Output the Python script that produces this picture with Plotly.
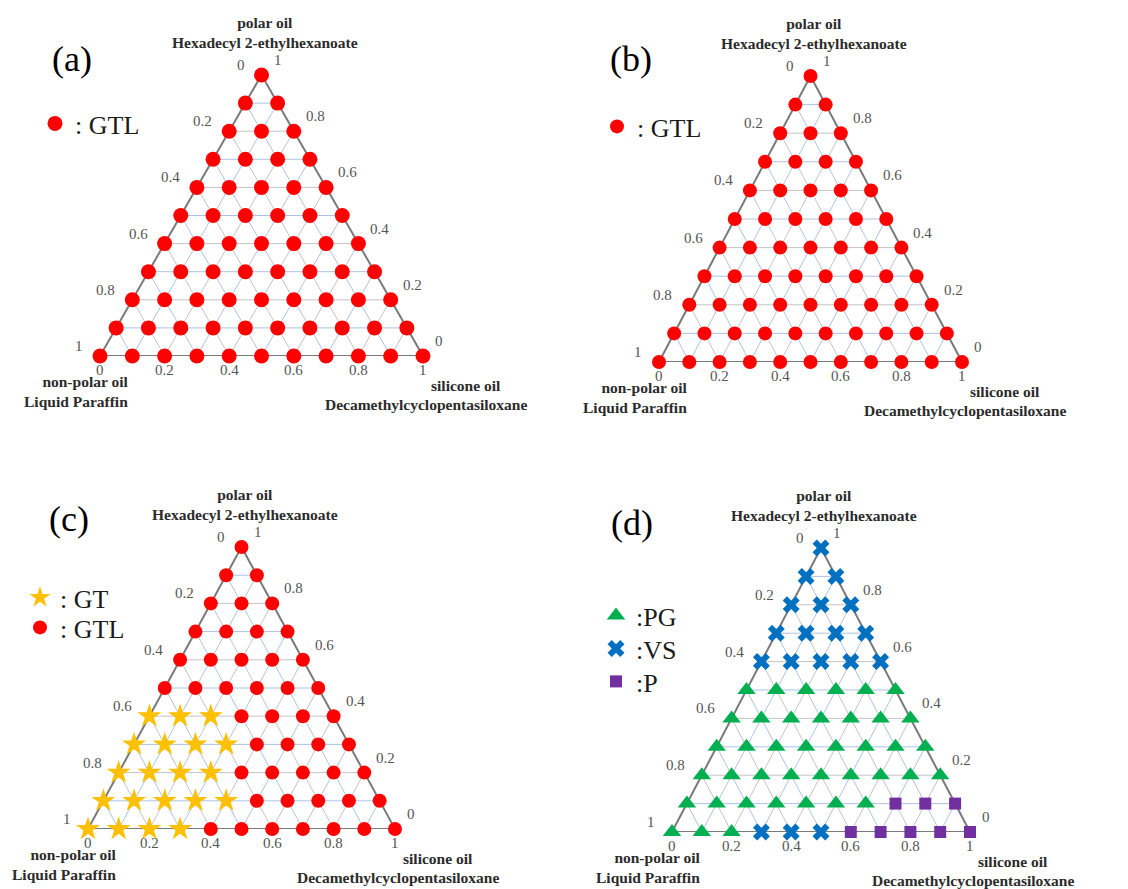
import plotly.graph_objects as go

# ---------------- data ----------------
# composition levels (mass fraction steps of 0.1)
SILICONE_LEVELS = [0.0, 0.1, 0.2, 0.3, 0.4, 0.5, 0.6, 0.7, 0.8, 0.9, 1.0]
POLAR_ROWS = [1.0, 0.9, 0.8, 0.7, 0.6, 0.5, 0.4, 0.3, 0.2, 0.1, 0.0]

# phase observed at each composition: one string per polar-oil row (top -> bottom),
# k-th character = phase at silicone-oil fraction SILICONE_LEVELS[k]
PHASES_A = ["L", "LL", "LLL", "LLLL", "LLLLL", "LLLLLL", "LLLLLLL",
            "LLLLLLLL", "LLLLLLLLL", "LLLLLLLLLL", "LLLLLLLLLLL"]
PHASES_B = ["L", "LL", "LLL", "LLLL", "LLLLL", "LLLLLL", "LLLLLLL",
            "LLLLLLLL", "LLLLLLLLL", "LLLLLLLLLL", "LLLLLLLLLLL"]
PHASES_C = ["L", "LL", "LLL", "LLLL", "LLLLL", "LLLLLL", "TTTLLLL",
            "TTTTLLLL", "TTTTLLLLL", "TTTTTLLLLL", "TTTTLLLLLLL"]
PHASES_D = ["V", "VV", "VVV", "VVVV", "VVVVV", "GGGGGG", "GGGGGGG",
            "GGGGGGGG", "GGGGGGGGG", "GGGGGGGPPP", "GGGVVVPPPPP"]

PHASE_NAMES = {"L": ": GTL", "T": ": GT", "G": ":PG", "V": ":VS", "P": ":P"}

TICK_VALUES = [0, 0.2, 0.4, 0.6, 0.8, 1]
TICK_LABELS = ["0", "0.2", "0.4", "0.6", "0.8", "1"]
GRID_MINOR = [0.1, 0.3, 0.5, 0.7, 0.9]
GRID_MAJOR = [0.2, 0.4, 0.6, 0.8]

TOP_TITLE = "polar oil<br>Hexadecyl 2-ethylhexanoate"
LEFT_TITLE = "non-polar oil<br>Liquid Paraffin"
RIGHT_TITLE_1 = "silicone oil"
RIGHT_TITLE_2 = "Decamethylcyclopentasiloxane"

# ---------------- styles ----------------
W, H = 1128, 889
SERIF = "Liberation Serif"
PHASE_STYLE = {
    "L": dict(symbol="circle", color="#FF0000"),
    "T": dict(symbol="star", color="#FFC000"),
    "G": dict(symbol="triangle-up", color="#00B050"),
    "V": dict(symbol="x", color="#0070C0"),
    "P": dict(symbol="square", color="#7030A0"),
}
PHASE_SIZE = {"L": 14, "T": 18, "G": 16, "V": 15, "P": 12}

# panel layout in pixels: (left x, right x, top y, bottom y); legend marker centres
PANELS = [
    dict(phases=PHASES_A, px=(100, 423, 75, 356), label="(a)", lab=(72, 59),
         legend_items=[("L", 55, 123)], lsize={"L": 15}),
    dict(phases=PHASES_B, px=(659, 962, 76, 362), label="(b)", lab=(631, 59),
         legend_items=[("L", 617, 126)], lsize={}),
    dict(phases=PHASES_C, px=(88, 395, 547, 829), label="(c)", lab=(69, 519),
         legend_items=[("T", 40, 597), ("L", 40, 627)], lsize={}),
    dict(phases=PHASES_D, px=(672, 970, 548, 832), label="(d)", lab=(632, 523),
         legend_items=[("G", 616, 615), ("V", 616, 648), ("P", 616, 681)], lsize={}),
]


def to_xy(polar, silicone):
    """ternary -> cartesian in the unit-triangle frame (x along base, y = polar)."""
    return silicone + polar / 2.0, polar


fig = go.Figure()
annotations = []
layout_extra = {}
legend_count = 0

for i, pn in enumerate(PANELS):
    n = i + 1
    xa = "x" if n == 1 else f"x{n}"
    ya = "y" if n == 1 else f"y{n}"
    x0, x1, yt, yb = pn["px"]

    layout_extra[("xaxis" if n == 1 else f"xaxis{n}")] = dict(
        domain=[x0 / W, x1 / W], range=[0, 1], visible=False, fixedrange=True)
    layout_extra[("yaxis" if n == 1 else f"yaxis{n}")] = dict(
        domain=[1 - yb / H, 1 - yt / H], range=[0, 1], visible=False, fixedrange=True)

    # grid lines (constant polar, constant silicone, constant non-polar)
    for levels, colour in ((GRID_MINOR, "#adc3e4"), (GRID_MAJOR, "#c4c4c4")):
        gx, gy = [], []
        for v in levels:
            for (pa, sa), (pb, sb) in (
                ((v, 0.0), (v, 1 - v)),          # polar = v
                ((0.0, v), (1 - v, v)),          # silicone = v
                ((0.0, 1 - v), (1 - v, 0.0)),    # non-polar = v
            ):
                xa_, ya_ = to_xy(pa, sa)
                xb_, yb_ = to_xy(pb, sb)
                gx += [xa_, xb_, None]
                gy += [ya_, yb_, None]
        fig.add_trace(go.Scatter(x=gx, y=gy, mode="lines", xaxis=xa, yaxis=ya,
                                 line=dict(color=colour, width=1), hoverinfo="skip",
                                 showlegend=False, cliponaxis=False))

    # triangle outline
    ex, ey = [], []
    for p_, s_ in ((0.0, 0.0), (0.0, 1.0), (1.0, 0.0), (0.0, 0.0)):
        xx, yy = to_xy(p_, s_)
        ex.append(xx)
        ey.append(yy)
    fig.add_trace(go.Scatter(x=ex, y=ey, mode="lines", xaxis=xa, yaxis=ya,
                             line=dict(color="#7a7a7a", width=2), hoverinfo="skip",
                             showlegend=False, cliponaxis=False))

    # data points by phase, each with its own legend box
    for code, mx, my in pn["legend_items"]:
        legend_count += 1
        leg = "legend" if legend_count == 1 else f"legend{legend_count}"
        px_, py_, txt = [], [], []
        for polar, row in zip(POLAR_ROWS, pn["phases"]):
            for k, ch in enumerate(row):
                if ch == code:
                    sil = SILICONE_LEVELS[k]
                    xx, yy = to_xy(polar, sil)
                    px_.append(xx)
                    py_.append(yy)
                    txt.append(f"polar {polar:.1f}, silicone {sil:.1f}, non-polar {1 - polar - sil:.1f}")
        st = PHASE_STYLE[code]
        size = pn["lsize"].get(code, PHASE_SIZE[code])
        fig.add_trace(go.Scatter(
            x=px_, y=py_, mode="markers", xaxis=xa, yaxis=ya, name=PHASE_NAMES[code],
            legend=leg, text=txt, hoverinfo="text", cliponaxis=False,
            marker=dict(symbol=st["symbol"], color=st["color"], size=size,
                        line=dict(width=0))))
        layout_extra[leg] = dict(x=(mx - 20) / W, y=1 - (my - 23) / H,
                                 xanchor="left", yanchor="top",
                                 bgcolor="rgba(0,0,0,0)", borderwidth=0,
                                 font=dict(family=SERIF, size=26, color="#1a1a1a"),
                                 itemclick=False, itemdoubleclick=False)

    # tick labels
    tf = dict(family=SERIF, size=15, color="#555555")
    for v, t in zip(TICK_VALUES, TICK_LABELS):
        # left edge: non-polar oil fraction (0 at top, 1 at bottom-left)
        xx, yy = to_xy(1 - v, 0.0)
        annotations.append(dict(x=xx, y=yy, xref=xa, yref=ya, text=t, showarrow=False,
                                xanchor="right", yanchor="middle", xshift=-15, yshift=10, font=tf))
        # right edge: polar oil fraction (1 at top, 0 at bottom-right)
        xx, yy = to_xy(v, 1 - v)
        annotations.append(dict(x=xx, y=yy, xref=xa, yref=ya, text=t, showarrow=False,
                                xanchor="left", yanchor="middle", xshift=10, yshift=15, font=tf))
        # bottom edge: silicone oil fraction (0 at left, 1 at right)
        xx, yy = to_xy(0.0, v)
        annotations.append(dict(x=xx, y=yy, xref=xa, yref=ya, text=t, showarrow=False,
                                xanchor="center", yanchor="top", xshift=0, yshift=-4, font=tf))

    # vertex titles
    bf = dict(family=SERIF, size=15.5, color="#2b2b2b")
    xx, yy = to_xy(1.0, 0.0)
    annotations.append(dict(x=xx, y=yy, xref=xa, yref=ya, text=f"<b>{TOP_TITLE}</b>",
                            showarrow=False, xanchor="center", yanchor="bottom",
                            xshift=3, yshift=22, font=bf, align="center"))
    xx, yy = to_xy(0.0, 0.0)
    annotations.append(dict(x=xx, y=yy, xref=xa, yref=ya, text=f"<b>{LEFT_TITLE}</b>",
                            showarrow=False, xanchor="right", yanchor="top",
                            xshift=30, yshift=-15, font=bf, align="right"))
    xx, yy = to_xy(0.0, 1.0)
    annotations.append(dict(x=xx, y=yy, xref=xa, yref=ya, text=f"<b>{RIGHT_TITLE_1}</b>",
                            showarrow=False, xanchor="left", yanchor="middle",
                            xshift=6, yshift=-29, font=bf))
    annotations.append(dict(x=xx, y=yy, xref=xa, yref=ya, text=f"<b>{RIGHT_TITLE_2}</b>",
                            showarrow=False, xanchor="right", yanchor="middle",
                            xshift=106, yshift=-48, font=bf))

    # panel label
    cx, cy = pn["lab"]
    annotations.append(dict(x=cx / W, y=1 - cy / H, xref="paper", yref="paper",
                            text=pn["label"], showarrow=False, xanchor="center",
                            yanchor="middle", font=dict(family=SERIF, size=36, color="#000000")))

fig.update_layout(
    width=W, height=H, margin=dict(l=0, r=0, t=0, b=0),
    paper_bgcolor="white", plot_bgcolor="rgba(0,0,0,0)",
    annotations=annotations, **layout_extra,
)

fig.write_html("out.html", config={"displayModeBar": False},
               post_script="document.body.style.margin='0';document.body.style.padding='0';")
